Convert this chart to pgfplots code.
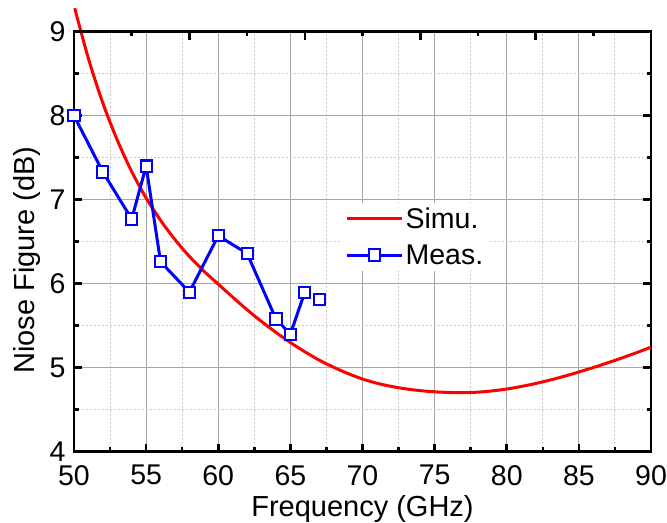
\documentclass[border=0pt]{standalone}
\usepackage{pgfplots}
\pgfplotsset{compat=1.18}
\usepackage{fontspec}
\setmainfont{Liberation Sans}
\usetikzlibrary{calc}
\definecolor{simred}{RGB}{255,0,0}
\definecolor{meablue}{RGB}{0,0,255}
\begin{document}
\begin{tikzpicture}
\begin{axis}[name=main, scale only axis, width=577pt, height=420pt,
  xmin=50, xmax=90, ymin=4, ymax=9,
  xtick={50,55,...,90}, ytick={4,5,...,9},
  minor x tick num=1, minor y tick num=1,
  xtick pos=left, ytick pos=both,
  tick align=inside,
  major tick length=8pt, minor tick length=4.5pt,
  every tick/.style={black, line width=2.6pt},
  axis line style={line width=2.8pt},
  grid=both,
  major grid style={black!35, line width=1.1pt},
  minor grid style={black!22, dash pattern=on 2pt off 2pt, line width=0.9pt},
  tick label style={font=\fontsize{28.5}{30}\selectfont},
  /pgf/number format/assume math mode=true,
  xticklabel style={yshift=-10pt},
  yticklabel style={xshift=-5pt},
  xlabel={Frequency (GHz)},
  ylabel={Niose Figure (dB)},
  label style={font=\fontsize{29}{32}\selectfont},
  xlabel style={at={(axis description cs:0.5,0)}, anchor=base, yshift=-65pt},
  ylabel style={at={(axis description cs:-0.0676,0.456)}, anchor=base},
  clip=false,
  unbounded coords=jump,
  legend style={at={(axis cs:68.54,6.965)}, anchor=north west, draw=none, fill=white,
    font=\fontsize{28.5}{30}\selectfont, inner xsep=4pt, inner ysep=3pt, row sep=10.5pt},
  legend cell align=left,
  legend image code/.code={\draw[mark repeat=2,mark phase=2,#1] plot coordinates {(0pt,0pt) (27.5pt,0pt) (55pt,0pt)};},
]
\addplot[simred, line width=3pt, smooth] coordinates {
(50.05,9.28) (51,8.68) (52,8.15) (53,7.71) (54,7.335) (55,7.02)
(56,6.755) (57,6.525) (58,6.325) (59,6.15) (60,5.995) (61,5.84)
(62,5.69) (63,5.55) (64,5.42) (65,5.30) (66,5.19) (67,5.09)
(68,5.005) (69,4.93) (70,4.865) (71,4.815) (72,4.777) (73,4.748)
(74,4.727) (75,4.713) (76,4.705) (77,4.703) (78,4.709) (79,4.724)
(80,4.746) (81,4.776) (82,4.812) (83,4.853) (84,4.899) (85,4.949)
(86,5.002) (87,5.058) (88,5.117) (89,5.179) (90,5.244)};
\addlegendentry{Simu.}
\addplot[meablue, line width=3pt, mark=square*, mark size=5.6pt,
  mark options={fill=white, draw=meablue, line width=2pt, solid}] coordinates {
(50,8.00) (52,7.33) (54,6.77) (55,7.40) (56,6.26) (58,5.90) (60,6.57)
(62,6.36) (64,5.58) (65,5.40) (66,5.90) (66.5,nan) (67,5.81)};
\addlegendentry{Meas.}
\addplot[only marks, mark=square*, mark size=5.6pt,
  mark options={fill=white, draw=meablue, line width=2pt, solid}, forget plot] coordinates {
(50,8.00) (52,7.33) (54,6.77) (55,7.40) (56,6.26) (58,5.90) (60,6.57)
(62,6.36) (64,5.58) (65,5.40) (66,5.90) (67,5.81)};
\end{axis}
\begin{axis}[at={(main.south west)}, anchor=south west, scale only axis,
  width=577pt, height=420pt,
  xmin=50, xmax=90, ymin=4, ymax=9,
  axis x line*=top, axis y line=none,
  xtick={50,58,...,90}, minor xtick={54,62,...,86}, xticklabels={},
  tick align=inside, xtick align=inside,
  major tick length=8pt, minor tick length=4.5pt,
  every tick/.style={black, line width=2.6pt},
  axis line style={line width=2.8pt},
]
\addplot[draw=none] coordinates {(50,4)};
\end{axis}
\pgfresetboundingbox
\path[use as bounding box] ($(main.south west)+(-74pt,-70.3pt)$) rectangle ($(main.north east)+(16pt,31.7pt)$);
\end{tikzpicture}
\end{document}
